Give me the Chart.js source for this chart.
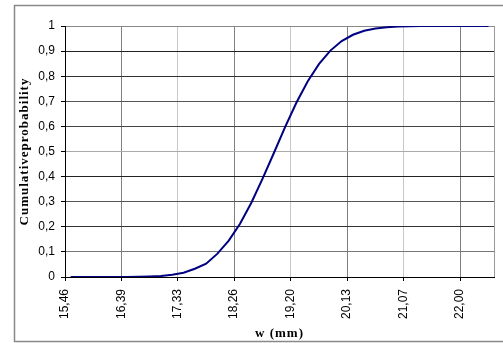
<!DOCTYPE html>
<html>
<head>
<meta charset="utf-8">
<script src="https://cdn.jsdelivr.net/npm/chart.js@4/dist/chart.umd.min.js"></script>
<style>
  html, body { margin: 0; padding: 0; background: #fff; }
</style>
</head>
<body>
<canvas id="cdfChart" width="503" height="343"></canvas>
<script>
// w (mm) at each plotted point
const wValues = [
  15.553, 15.740, 15.927, 16.114, 16.301, 16.488, 16.675, 16.861, 17.048, 17.235,
  17.422, 17.609, 17.796, 17.983, 18.170, 18.357, 18.544, 18.730, 18.917, 19.104,
  19.291, 19.478, 19.665, 19.852, 20.039, 20.226, 20.412, 20.599, 20.786, 20.973,
  21.160, 21.347, 21.534, 21.721, 21.908, 22.095, 22.281, 22.468
];
const cumProb = [
  0, 0, 0, 0, 0.0001, 0.0003, 0.0008, 0.002, 0.004, 0.009,
  0.017, 0.033, 0.053, 0.093, 0.145, 0.212, 0.296, 0.392, 0.494, 0.598,
  0.695, 0.780, 0.849, 0.902, 0.940, 0.965, 0.981, 0.990, 0.995, 0.998,
  0.999, 1, 1, 1, 1, 1, 1, 1
];
const xTickValues = [15.46, 16.39, 17.33, 18.26, 19.20, 20.13, 21.07, 22.00];
const xTickLabels = ['15,46', '16,39', '17,33', '18,26', '19,20', '20,13', '21,07', '22,00'];

const xGridColors = ['#000', '#808080', '#c8c8c8', '#808080', '#c8c8c8', '#808080', '#c8c8c8', '#808080'];
const yGridColors = ['#000', '#777', '#333', '#555', '#222', '#aaa', '#444', '#555', '#333', '#222', '#888'];

function spacedTitle(scale) {
  if (scale._spaced) return;
  const orig = scale.drawTitle;
  scale.drawTitle = function () {
    const ctx = this.ctx;
    ctx.save();
    ctx.letterSpacing = '1px';
    orig.apply(this, arguments);
    ctx.restore();
  };
  scale._spaced = true;
}

const frame = {
  id: 'frame',
  beforeDraw(chart) {
    const ctx = chart.ctx;
    ctx.save();
    ctx.fillStyle = '#fff';
    ctx.fillRect(0, 0, chart.width, chart.height);
    ctx.strokeStyle = '#888';
    ctx.lineWidth = 1.5;
    ctx.strokeRect(14.5, 5.5, 500, 336);
    ctx.restore();
  },
  afterDraw(chart) {
    const a = chart.chartArea;
    const ctx = chart.ctx;
    ctx.save();
    ctx.strokeStyle = '#999';
    ctx.lineWidth = 1;
    ctx.beginPath();
    ctx.moveTo(a.right + 0.5, a.top);
    ctx.lineTo(a.right + 0.5, a.bottom);
    ctx.stroke();
    ctx.restore();
  }
};

new Chart(document.getElementById('cdfChart'), {
  type: 'line',
  data: {
    datasets: [{
      data: wValues.map((w, i) => ({ x: w, y: cumProb[i] })),
      borderColor: '#000080',
      borderWidth: 2,
      pointRadius: 0,
      tension: 0,
      fill: false
    }]
  },
  options: {
    responsive: false,
    animation: false,
    devicePixelRatio: 1,
    layout: { padding: { left: 0, right: 9, top: 26, bottom: 0 } },
    plugins: { legend: { display: false }, tooltip: { enabled: false } },
    scales: {
      x: {
        type: 'linear',
        min: 15.46,
        max: 22.56,
        afterBuildTicks: (scale) => {
          scale.ticks = xTickValues.map(v => ({ value: v }));
        },
        afterFit: (scale) => { scale.height = 66; spacedTitle(scale); },
        ticks: {
          autoSkip: false,
          minRotation: 90,
          maxRotation: 90,
          padding: 8,
          color: '#000',
          font: { family: 'Liberation Sans', size: 12 },
          callback: (v, i) => xTickLabels[i]
        },
        grid: {
          color: (c) => xGridColors[c.index] || '#808080',
          tickColor: '#000',
          tickLength: 4,
          lineWidth: 1
        },
        border: { color: '#000', width: 1 },
        title: {
          display: true,
          text: 'w (mm)',
          color: '#000',
          font: { family: 'Liberation Serif', size: 13, weight: 'bold' },
          padding: { top: 0, bottom: 2 }
        }
      },
      y: {
        min: 0,
        max: 1,
        afterFit: (scale) => { scale.width = 65; spacedTitle(scale); },
        ticks: {
          stepSize: 0.1,
          padding: 6,
          color: '#000',
          font: { family: 'Liberation Sans', size: 12 },
          callback: (v) => String(Math.round(v * 10) / 10).replace('.', ',')
        },
        grid: {
          color: (c) => yGridColors[c.index] || '#555',
          tickColor: '#000',
          tickLength: 4,
          lineWidth: 1
        },
        border: { color: '#000', width: 1 },
        title: {
          display: true,
          text: 'Cumulativeprobability',
          color: '#000',
          font: { family: 'Liberation Serif', size: 13, weight: 'bold' },
          padding: { top: 17, bottom: 0 }
        }
      }
    }
  },
  plugins: [frame]
});
</script>
</body>
</html>
